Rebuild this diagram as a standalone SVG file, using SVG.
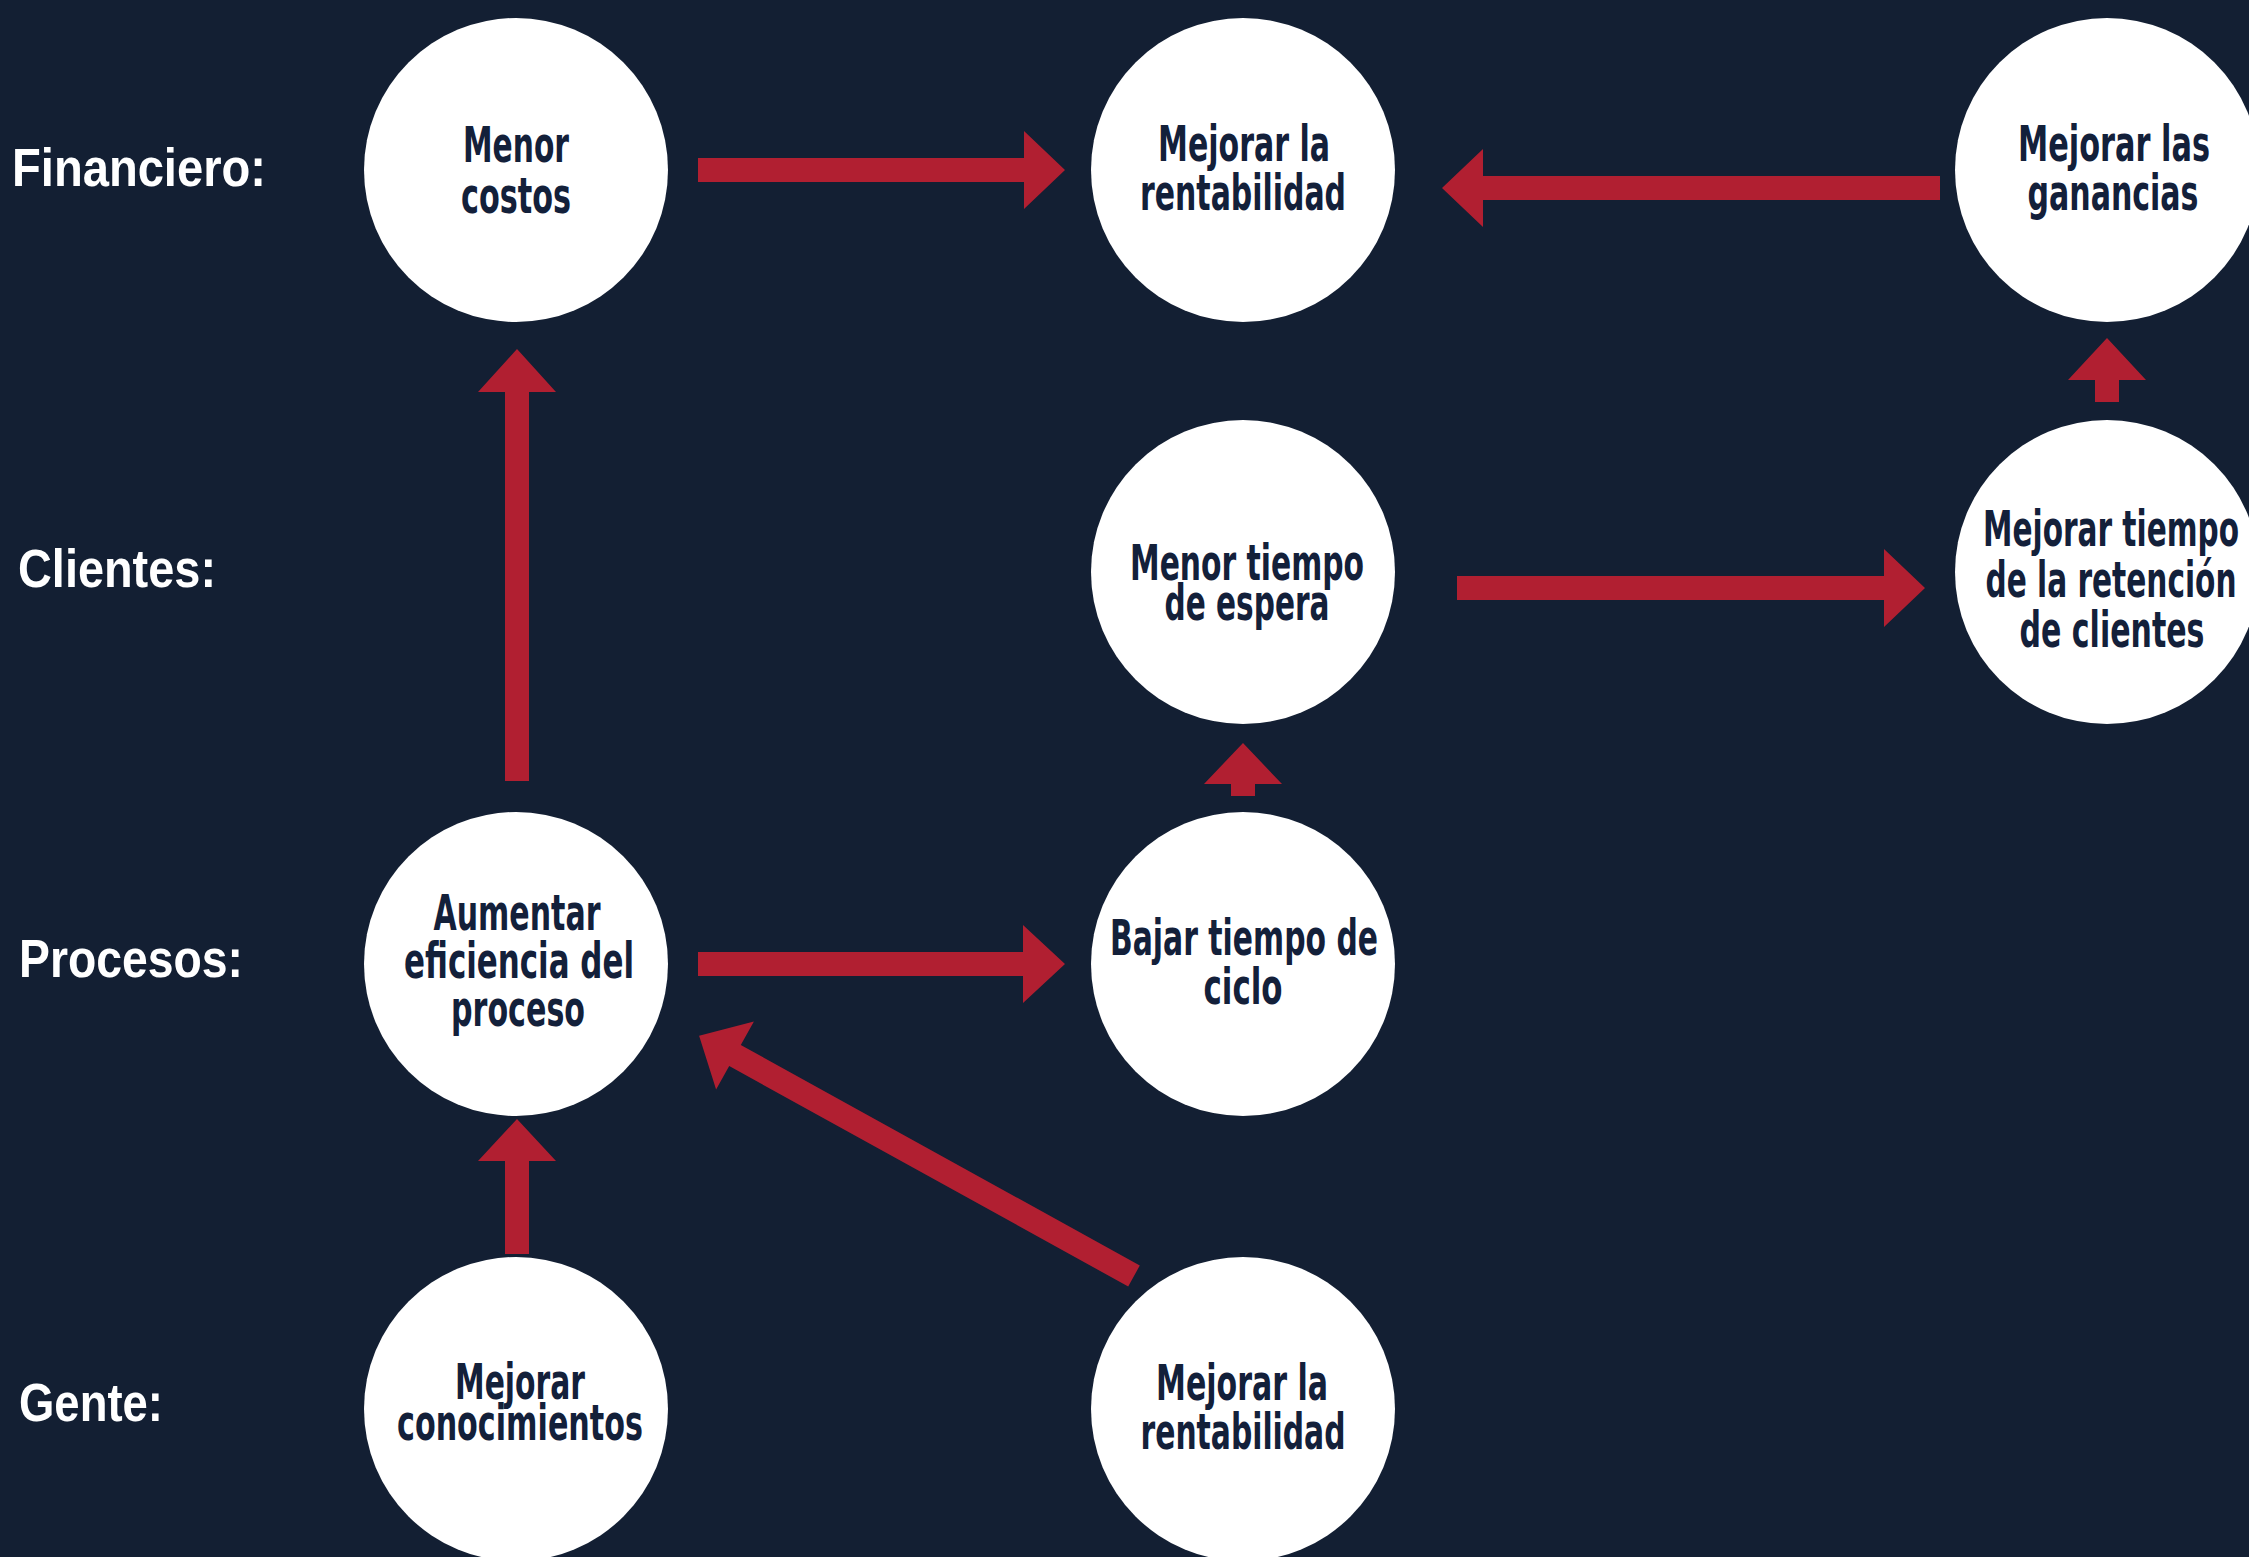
<svg xmlns="http://www.w3.org/2000/svg" width="2249" height="1557" viewBox="0 0 2249 1557">
<style>
.bg{fill:#131f33}
.node circle{fill:#ffffff}
.nt{font-family:"DejaVu Sans Condensed","Liberation Sans Narrow","Liberation Sans",sans-serif;font-weight:bold;font-size:50px;fill:#13203a;text-anchor:middle}
.lbl{font-family:"Liberation Sans","DejaVu Sans",sans-serif;font-weight:bold;font-size:53px;fill:#ffffff}
.arr{fill:#b11f31}
</style>
<rect class="bg" x="0" y="0" width="2249" height="1557"/>

<g id="labels">
<text class="lbl" x="12" y="186" textLength="254" lengthAdjust="spacingAndGlyphs">Financiero:</text>
<text class="lbl" x="18" y="587" textLength="198" lengthAdjust="spacingAndGlyphs">Clientes:</text>
<text class="lbl" x="19" y="977" textLength="224" lengthAdjust="spacingAndGlyphs">Procesos:</text>
<text class="lbl" x="19" y="1421" textLength="144" lengthAdjust="spacingAndGlyphs">Gente:</text>
</g>

<g id="connectors">
<polygon class="arr" points="698,158 1024,158 1024,131 1065,170 1024,209 1024,182 698,182"/>
<polygon class="arr" points="1940,176 1483,176 1483,149 1442,188 1483,227 1483,200 1940,200"/>
<polygon class="arr" points="1457,576 1884,576 1884,549 1925,588 1884,627 1884,600 1457,600"/>
<polygon class="arr" points="2095,402 2095,380 2068,380 2107,338 2146,380 2119,380 2119,402"/>
<polygon class="arr" points="505,781 505,392 478,392 517,349 556,392 529,392 529,781"/>
<polygon class="arr" points="1231,796 1231,784 1204,784 1243,743 1282,784 1255,784 1255,796"/>
<polygon class="arr" points="505,1254 505,1161 478,1161 517,1119 556,1161 529,1161 529,1254"/>
<polygon class="arr" points="698,952 1023,952 1023,925 1065,964 1023,1003 1023,976 698,976"/>
<polygon class="arr" points="1139.8,1265.5 740.8,1045 753.9,1021.4 699.1,1035.7 716.1,1089.6 729.2,1066 1128.2,1286.5"/>
</g>

<g id="node-menor-costos" class="node">
<circle cx="516" cy="170" r="152"/>
<text class="nt" x="516" y="162" textLength="106" lengthAdjust="spacingAndGlyphs">Menor</text>
<text class="nt" x="516" y="213" textLength="110" lengthAdjust="spacingAndGlyphs">costos</text>
</g>

<g id="node-mejorar-rentabilidad-top" class="node">
<circle cx="1243" cy="170" r="152"/>
<text class="nt" x="1244" y="161" textLength="172" lengthAdjust="spacingAndGlyphs">Mejorar la</text>
<text class="nt" x="1243" y="210" textLength="206" lengthAdjust="spacingAndGlyphs">rentabilidad</text>
</g>

<g id="node-mejorar-ganancias" class="node">
<circle cx="2107" cy="170" r="152"/>
<text class="nt" x="2114" y="161" textLength="192" lengthAdjust="spacingAndGlyphs">Mejorar las</text>
<text class="nt" x="2113" y="210" textLength="171" lengthAdjust="spacingAndGlyphs">ganancias</text>
</g>

<g id="node-menor-tiempo-espera" class="node">
<circle cx="1243" cy="572" r="152"/>
<text class="nt" x="1247" y="580" textLength="234" lengthAdjust="spacingAndGlyphs">Menor tiempo</text>
<text class="nt" x="1247" y="620" textLength="165" lengthAdjust="spacingAndGlyphs">de espera</text>
</g>

<g id="node-mejorar-retencion" class="node">
<circle cx="2107" cy="572" r="152"/>
<text class="nt" x="2111" y="546" textLength="256" lengthAdjust="spacingAndGlyphs">Mejorar tiempo</text>
<text class="nt" x="2111" y="597" textLength="251" lengthAdjust="spacingAndGlyphs">de la retención</text>
<text class="nt" x="2112" y="647" textLength="185" lengthAdjust="spacingAndGlyphs">de clientes</text>
</g>

<g id="node-aumentar-eficiencia" class="node">
<circle cx="516" cy="964" r="152"/>
<text class="nt" x="517" y="930" textLength="167" lengthAdjust="spacingAndGlyphs">Aumentar</text>
<text class="nt" x="519" y="978" textLength="230" lengthAdjust="spacingAndGlyphs">eficiencia del</text>
<text class="nt" x="518" y="1026" textLength="134" lengthAdjust="spacingAndGlyphs">proceso</text>
</g>

<g id="node-bajar-tiempo-ciclo" class="node">
<circle cx="1243" cy="964" r="152"/>
<text class="nt" x="1244" y="955" textLength="268" lengthAdjust="spacingAndGlyphs">Bajar tiempo de</text>
<text class="nt" x="1243" y="1004" textLength="79" lengthAdjust="spacingAndGlyphs">ciclo</text>
</g>

<g id="node-mejorar-conocimientos" class="node">
<circle cx="516" cy="1409" r="152"/>
<text class="nt" x="520" y="1399" textLength="130" lengthAdjust="spacingAndGlyphs">Mejorar</text>
<text class="nt" x="520" y="1440" textLength="246" lengthAdjust="spacingAndGlyphs">conocimientos</text>
</g>

<g id="node-mejorar-rentabilidad-bottom" class="node">
<circle cx="1243" cy="1409" r="152"/>
<text class="nt" x="1242" y="1400" textLength="172" lengthAdjust="spacingAndGlyphs">Mejorar la</text>
<text class="nt" x="1243" y="1449" textLength="205" lengthAdjust="spacingAndGlyphs">rentabilidad</text>
</g>
</svg>
